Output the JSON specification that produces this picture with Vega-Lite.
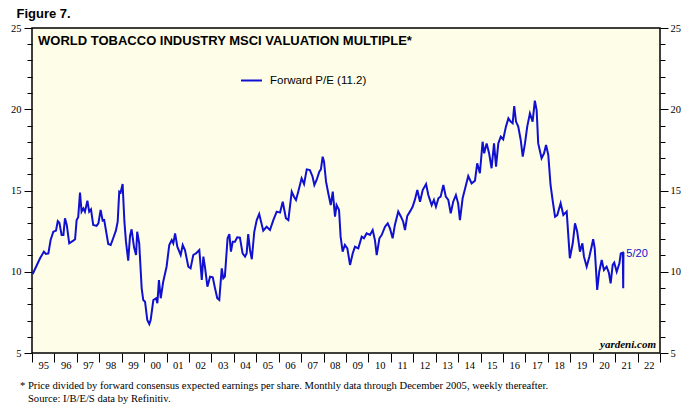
{
  "$schema": "https://vega.github.io/schema/vega-lite/v6.json",
  "autosize": {"type": "none"},
  "width": 628,
  "height": 325,
  "padding": {"left": 32, "top": 28, "right": 30, "bottom": 54},
  "background": "white",
  "title": {"text": "Figure 7.", "anchor": "start", "dx": 6, "offset": 2, "font": "Liberation Sans", "fontSize": 13, "fontWeight": "bold", "color": "black"},
  "config": {
    "view": {"fill": "#FEFDE8", "stroke": "black", "strokeWidth": 1.5},
    "axis": {"domain": false, "grid": false, "tickColor": "black", "tickWidth": 1, "labelColor": "black", "labelFont": "Liberation Serif", "labelFontSize": 10.5, "title": null, "labelOverlap": false, "labelFlush": false, "labelBound": false}
  },
  "datasets": {
    "pe": [
      {"year": 1995.03, "pe": 9.86}, {"year": 1995.36, "pe": 10.83}, {"year": 1995.53, "pe": 11.24}, {"year": 1995.62, "pe": 11.1}, {"year": 1995.73, "pe": 11.13}, {"year": 1995.83, "pe": 11.95}, {"year": 1995.95, "pe": 12.46},
      {"year": 1996.07, "pe": 12.53}, {"year": 1996.15, "pe": 13.12}, {"year": 1996.22, "pe": 13.02}, {"year": 1996.32, "pe": 12.26}, {"year": 1996.4, "pe": 12.26}, {"year": 1996.47, "pe": 13.29}, {"year": 1996.55, "pe": 12.88}, {"year": 1996.66, "pe": 11.75}, {"year": 1996.84, "pe": 11.91}, {"year": 1996.92, "pe": 12.0}, {"year": 1996.99, "pe": 13.18},
      {"year": 1997.06, "pe": 13.35}, {"year": 1997.14, "pe": 14.87}, {"year": 1997.21, "pe": 13.7}, {"year": 1997.29, "pe": 13.9}, {"year": 1997.36, "pe": 13.7}, {"year": 1997.47, "pe": 14.37}, {"year": 1997.55, "pe": 13.7}, {"year": 1997.63, "pe": 13.84}, {"year": 1997.73, "pe": 12.88}, {"year": 1997.88, "pe": 12.82}, {"year": 1997.96, "pe": 12.98},
      {"year": 1998.06, "pe": 13.8}, {"year": 1998.15, "pe": 13.14}, {"year": 1998.22, "pe": 13.18}, {"year": 1998.4, "pe": 11.71}, {"year": 1998.51, "pe": 11.65}, {"year": 1998.62, "pe": 12.06}, {"year": 1998.74, "pe": 12.53}, {"year": 1998.82, "pe": 13.08}, {"year": 1998.89, "pe": 14.93}, {"year": 1998.95, "pe": 14.87},
      {"year": 1999.04, "pe": 15.4}, {"year": 1999.12, "pe": 13.08}, {"year": 1999.19, "pe": 11.85}, {"year": 1999.29, "pe": 10.68}, {"year": 1999.37, "pe": 12.2}, {"year": 1999.44, "pe": 12.61}, {"year": 1999.55, "pe": 11.5}, {"year": 1999.64, "pe": 11.03}, {"year": 1999.69, "pe": 12.46}, {"year": 1999.78, "pe": 11.75}, {"year": 1999.89, "pe": 8.98}, {"year": 1999.96, "pe": 8.26},
      {"year": 2000.04, "pe": 8.16}, {"year": 2000.14, "pe": 7.03}, {"year": 2000.23, "pe": 6.78}, {"year": 2000.29, "pe": 7.03}, {"year": 2000.41, "pe": 8.26}, {"year": 2000.53, "pe": 8.37}, {"year": 2000.59, "pe": 8.06}, {"year": 2000.66, "pe": 9.49}, {"year": 2000.74, "pe": 8.37}, {"year": 2000.85, "pe": 9.39},
      {"year": 2001.0, "pe": 10.31}, {"year": 2001.12, "pe": 11.65}, {"year": 2001.23, "pe": 11.95}, {"year": 2001.3, "pe": 11.75}, {"year": 2001.38, "pe": 12.36}, {"year": 2001.48, "pe": 11.54}, {"year": 2001.63, "pe": 11.03}, {"year": 2001.72, "pe": 11.65}, {"year": 2001.82, "pe": 11.34}, {"year": 2001.97, "pe": 10.31},
      {"year": 2002.07, "pe": 10.21}, {"year": 2002.19, "pe": 11.03}, {"year": 2002.31, "pe": 11.13}, {"year": 2002.46, "pe": 11.34}, {"year": 2002.57, "pe": 9.49}, {"year": 2002.64, "pe": 10.93}, {"year": 2002.71, "pe": 10.31}, {"year": 2002.82, "pe": 9.08}, {"year": 2002.94, "pe": 9.7},
      {"year": 2003.06, "pe": 9.66}, {"year": 2003.16, "pe": 8.98}, {"year": 2003.26, "pe": 8.37}, {"year": 2003.35, "pe": 8.26}, {"year": 2003.46, "pe": 10.21}, {"year": 2003.53, "pe": 9.6}, {"year": 2003.6, "pe": 9.7}, {"year": 2003.72, "pe": 12.06}, {"year": 2003.8, "pe": 12.32}, {"year": 2003.87, "pe": 11.24}, {"year": 2003.95, "pe": 11.85},
      {"year": 2004.05, "pe": 11.85}, {"year": 2004.15, "pe": 12.12}, {"year": 2004.27, "pe": 12.1}, {"year": 2004.39, "pe": 11.13}, {"year": 2004.5, "pe": 10.93}, {"year": 2004.57, "pe": 11.13}, {"year": 2004.64, "pe": 12.32}, {"year": 2004.72, "pe": 11.34}, {"year": 2004.8, "pe": 10.77}, {"year": 2004.91, "pe": 12.46},
      {"year": 2005.02, "pe": 13.18}, {"year": 2005.13, "pe": 13.55}, {"year": 2005.31, "pe": 12.53}, {"year": 2005.46, "pe": 12.77}, {"year": 2005.61, "pe": 12.57}, {"year": 2005.76, "pe": 13.18}, {"year": 2005.91, "pe": 13.7},
      {"year": 2006.06, "pe": 13.64}, {"year": 2006.18, "pe": 14.31}, {"year": 2006.32, "pe": 13.29}, {"year": 2006.43, "pe": 13.18}, {"year": 2006.58, "pe": 14.93}, {"year": 2006.68, "pe": 14.62}, {"year": 2006.77, "pe": 14.42}, {"year": 2006.87, "pe": 14.93},
      {"year": 2007.02, "pe": 15.75}, {"year": 2007.13, "pe": 15.4}, {"year": 2007.25, "pe": 16.3}, {"year": 2007.39, "pe": 16.26}, {"year": 2007.51, "pe": 15.85}, {"year": 2007.59, "pe": 15.34}, {"year": 2007.69, "pe": 15.65}, {"year": 2007.81, "pe": 16.16}, {"year": 2007.88, "pe": 16.3}, {"year": 2007.96, "pe": 17.08},
      {"year": 2008.02, "pe": 16.77}, {"year": 2008.11, "pe": 15.54}, {"year": 2008.21, "pe": 14.83}, {"year": 2008.32, "pe": 14.1}, {"year": 2008.41, "pe": 14.93}, {"year": 2008.51, "pe": 13.39}, {"year": 2008.58, "pe": 14.1}, {"year": 2008.69, "pe": 13.8}, {"year": 2008.76, "pe": 12.16}, {"year": 2008.85, "pe": 11.24}, {"year": 2008.95, "pe": 11.65},
      {"year": 2009.06, "pe": 11.44}, {"year": 2009.18, "pe": 10.42}, {"year": 2009.3, "pe": 11.13}, {"year": 2009.4, "pe": 11.54}, {"year": 2009.55, "pe": 11.44}, {"year": 2009.7, "pe": 12.16}, {"year": 2009.8, "pe": 12.06}, {"year": 2009.92, "pe": 12.36},
      {"year": 2010.07, "pe": 12.26}, {"year": 2010.19, "pe": 12.57}, {"year": 2010.29, "pe": 11.95}, {"year": 2010.37, "pe": 11.03}, {"year": 2010.49, "pe": 12.06}, {"year": 2010.59, "pe": 12.26}, {"year": 2010.74, "pe": 12.77}, {"year": 2010.86, "pe": 12.98}, {"year": 2010.96, "pe": 12.67},
      {"year": 2011.08, "pe": 12.06}, {"year": 2011.18, "pe": 12.88}, {"year": 2011.33, "pe": 13.7}, {"year": 2011.45, "pe": 13.39}, {"year": 2011.55, "pe": 13.08}, {"year": 2011.63, "pe": 12.57}, {"year": 2011.73, "pe": 13.43}, {"year": 2011.85, "pe": 13.7}, {"year": 2011.97, "pe": 14.0},
      {"year": 2012.07, "pe": 14.42}, {"year": 2012.18, "pe": 15.03}, {"year": 2012.3, "pe": 14.31}, {"year": 2012.42, "pe": 15.03}, {"year": 2012.57, "pe": 15.4}, {"year": 2012.67, "pe": 14.72}, {"year": 2012.82, "pe": 14.1}, {"year": 2012.92, "pe": 14.42},
      {"year": 2013.01, "pe": 14.0}, {"year": 2013.12, "pe": 14.52}, {"year": 2013.22, "pe": 14.62}, {"year": 2013.34, "pe": 15.34}, {"year": 2013.45, "pe": 14.62}, {"year": 2013.56, "pe": 14.42}, {"year": 2013.67, "pe": 13.6}, {"year": 2013.78, "pe": 14.31}, {"year": 2013.9, "pe": 14.72},
      {"year": 2014.0, "pe": 14.21}, {"year": 2014.08, "pe": 13.18}, {"year": 2014.2, "pe": 14.52}, {"year": 2014.35, "pe": 15.34}, {"year": 2014.45, "pe": 15.89}, {"year": 2014.6, "pe": 15.44}, {"year": 2014.75, "pe": 15.6}, {"year": 2014.85, "pe": 16.67}, {"year": 2014.97, "pe": 16.06},
      {"year": 2015.09, "pe": 18.0}, {"year": 2015.16, "pe": 17.29}, {"year": 2015.27, "pe": 17.9}, {"year": 2015.38, "pe": 17.29}, {"year": 2015.49, "pe": 16.37}, {"year": 2015.6, "pe": 17.9}, {"year": 2015.69, "pe": 16.47}, {"year": 2015.79, "pe": 17.9}, {"year": 2015.9, "pe": 18.31},
      {"year": 2016.01, "pe": 18.15}, {"year": 2016.13, "pe": 18.93}, {"year": 2016.24, "pe": 19.44}, {"year": 2016.34, "pe": 19.24}, {"year": 2016.43, "pe": 19.14}, {"year": 2016.5, "pe": 20.2}, {"year": 2016.58, "pe": 19.24}, {"year": 2016.68, "pe": 18.93}, {"year": 2016.79, "pe": 18.11}, {"year": 2016.88, "pe": 17.08}, {"year": 2016.98, "pe": 17.9},
      {"year": 2017.08, "pe": 18.93}, {"year": 2017.2, "pe": 19.75}, {"year": 2017.32, "pe": 19.24}, {"year": 2017.42, "pe": 20.53}, {"year": 2017.5, "pe": 19.95}, {"year": 2017.57, "pe": 17.9}, {"year": 2017.72, "pe": 16.98}, {"year": 2017.83, "pe": 17.29}, {"year": 2017.92, "pe": 17.8},
      {"year": 2018.02, "pe": 17.18}, {"year": 2018.12, "pe": 15.34}, {"year": 2018.21, "pe": 14.42}, {"year": 2018.32, "pe": 13.39}, {"year": 2018.42, "pe": 13.49}, {"year": 2018.57, "pe": 14.21}, {"year": 2018.69, "pe": 13.49}, {"year": 2018.84, "pe": 13.7}, {"year": 2018.98, "pe": 10.83},
      {"year": 2019.11, "pe": 11.75}, {"year": 2019.21, "pe": 12.98}, {"year": 2019.31, "pe": 12.46}, {"year": 2019.43, "pe": 11.24}, {"year": 2019.54, "pe": 11.75}, {"year": 2019.61, "pe": 10.93}, {"year": 2019.73, "pe": 10.31}, {"year": 2019.85, "pe": 10.93}, {"year": 2019.95, "pe": 11.54},
      {"year": 2020.02, "pe": 12.0}, {"year": 2020.09, "pe": 11.44}, {"year": 2020.2, "pe": 8.88}, {"year": 2020.29, "pe": 10.0}, {"year": 2020.4, "pe": 10.72}, {"year": 2020.5, "pe": 10.11}, {"year": 2020.62, "pe": 10.31}, {"year": 2020.72, "pe": 9.94}, {"year": 2020.8, "pe": 9.29}, {"year": 2020.89, "pe": 10.42}, {"year": 2020.96, "pe": 10.56},
      {"year": 2021.07, "pe": 10.0}, {"year": 2021.19, "pe": 10.52}, {"year": 2021.25, "pe": 11.13}, {"year": 2021.34, "pe": 11.17}, {"year": 2021.36, "pe": 8.98}, {"year": 2021.37, "pe": 11.2}
    ]
  },
  "layer": [
    {
      "data": {"name": "pe"},
      "mark": {"type": "line", "strokeWidth": 2, "interpolate": "linear"},
      "encoding": {
        "x": {"field": "year", "type": "quantitative", "scale": {"domain": [1995, 2023], "nice": false, "zero": false},
          "axis": {"orient": "bottom", "values": [1995,1996,1997,1998,1999,2000,2001,2002,2003,2004,2005,2006,2007,2008,2009,2010,2011,2012,2013,2014,2015,2016,2017,2018,2019,2020,2021,2022,2023],
            "tickSize": 9, "labelOffset": 11.2, "labelPadding": -2,
            "labelExpr": "datum.value > 2022 ? '' : ((datum.value % 100) < 10 ? '0' + (datum.value % 100) : '' + (datum.value % 100))"}},
        "y": {"field": "pe", "type": "quantitative", "scale": {"domain": [5, 25], "nice": false, "zero": false},
          "axis": {"orient": "left", "values": [5,6,7,8,9,10,11,12,13,14,15,16,17,18,19,20,21,22,23,24,25],
            "tickSize": {"condition": {"test": "datum.value % 5 === 0", "value": 8}, "value": 5},
            "labelExpr": "datum.value % 5 === 0 ? datum.label : ''", "labelPadding": 3}},
        "color": {"datum": "Forward P/E (11.2)", "type": "nominal", "scale": {"range": ["#1010D0"]},
          "legend": {"title": null, "orient": "none", "legendX": 208, "legendY": 41, "padding": 0, "symbolType": "stroke", "symbolSize": 441, "symbolStrokeWidth": 2, "labelFont": "Liberation Sans", "labelFontSize": 11.5, "labelColor": "black", "labelOffset": 7}}
      }
    },
    {
      "data": {"values": [{"label": "5/20"}]},
      "mark": {"type": "text", "align": "left", "baseline": "middle", "font": "Liberation Sans", "fontSize": 11, "color": "#1010D0"},
      "encoding": {
        "text": {"field": "label"},
        "x": {"datum": 2021.5, "type": "quantitative", "axis": null},
        "y": {"datum": 11.11, "type": "quantitative",
          "axis": {"orient": "right", "values": [5,6,7,8,9,10,11,12,13,14,15,16,17,18,19,20,21,22,23,24,25],
            "tickSize": {"condition": {"test": "datum.value % 5 === 0", "value": 8}, "value": 5},
            "labelExpr": "datum.value % 5 === 0 ? datum.label : ''", "labelPadding": 2}}
      }
    },
    {
      "data": {"values": [{"label": "WORLD TOBACCO INDUSTRY MSCI VALUATION MULTIPLE*"}]},
      "mark": {"type": "text", "align": "left", "baseline": "alphabetic", "font": "Liberation Sans", "fontSize": 13, "fontWeight": "bold", "color": "black"},
      "encoding": {
        "text": {"field": "label"},
        "x": {"datum": 1995.27, "type": "quantitative", "axis": null},
        "y": {"datum": 23.93, "type": "quantitative", "axis": null}
      }
    },
    {
      "data": {"values": [{"label": "yardeni.com"}]},
      "mark": {"type": "text", "align": "right", "baseline": "alphabetic", "font": "Liberation Serif", "fontSize": 11, "fontWeight": "bold", "fontStyle": "italic", "color": "black"},
      "encoding": {
        "text": {"field": "label"},
        "x": {"datum": 2022.82, "type": "quantitative", "axis": null},
        "y": {"datum": 5.3, "type": "quantitative", "axis": null}
      }
    },
    {
      "data": {"values": [{"label": "Price divided by forward consensus expected earnings per share. Monthly data through December 2005, weekly thereafter.", "pos": 3.3}, {"label": "Source: I/B/E/S data by Refinitiv.", "pos": 2.5}]},
      "mark": {"type": "text", "align": "left", "baseline": "top", "font": "Liberation Serif", "fontSize": 10.6, "color": "black"},
      "encoding": {
        "text": {"field": "label"},
        "x": {"datum": 1994.82, "type": "quantitative", "axis": null},
        "y": {"field": "pos", "type": "quantitative", "axis": null}
      }
    },
    {
      "data": {"values": [{"label": "*"}]},
      "mark": {"type": "text", "align": "left", "baseline": "top", "font": "Liberation Serif", "fontSize": 10.6, "color": "black"},
      "encoding": {
        "text": {"field": "label"},
        "x": {"datum": 1994.47, "type": "quantitative", "axis": null},
        "y": {"datum": 3.3, "type": "quantitative", "axis": null}
      }
    }
  ],
  "resolve": {"axis": {"x": "independent", "y": "independent"}}
}
